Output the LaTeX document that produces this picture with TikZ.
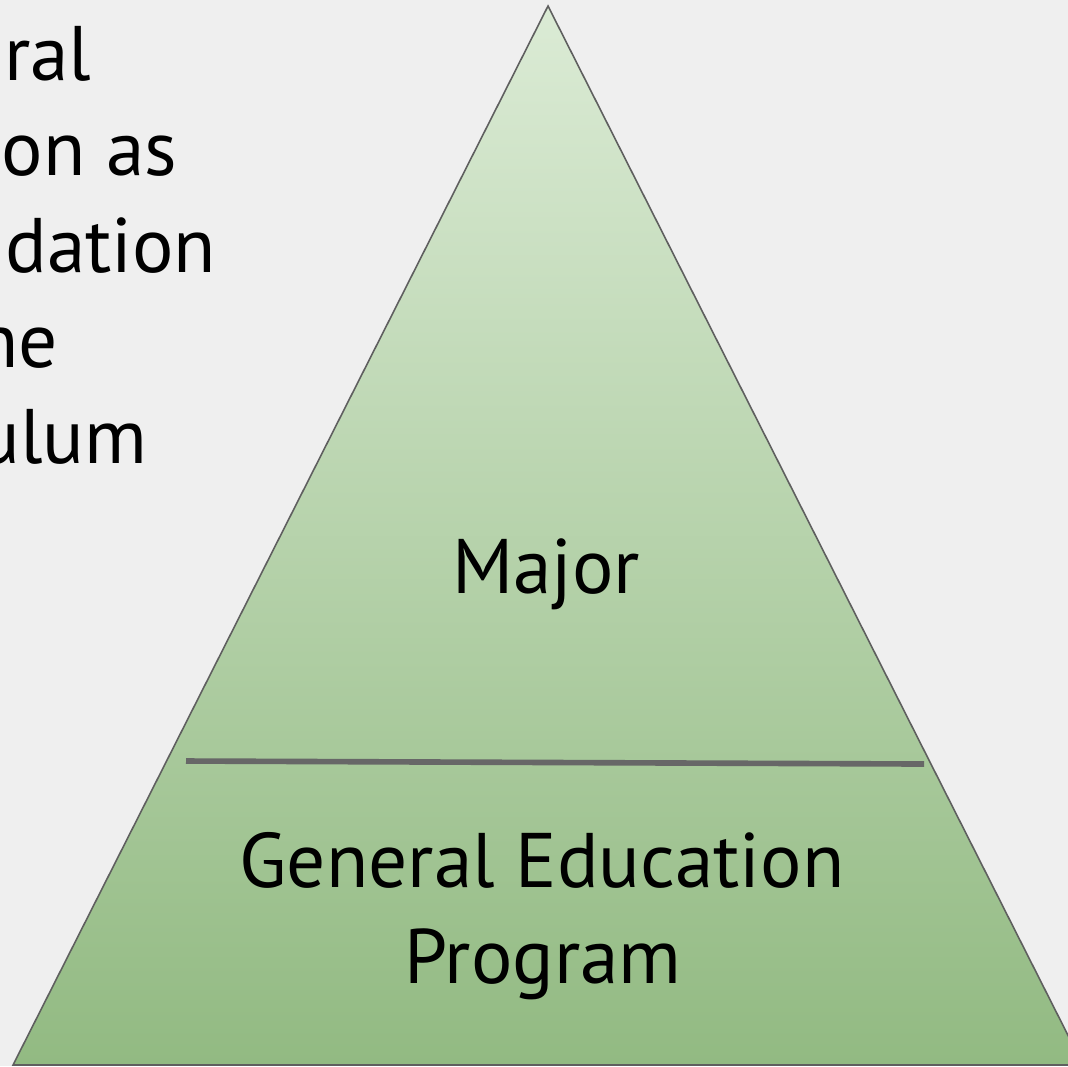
\documentclass[tikz,border=0pt]{standalone}
\usepackage{fontspec}
\setmainfont{PT Sans}
\usepackage{tikz}
\usetikzlibrary{positioning}

\definecolor{bgcol}{HTML}{EFEFEF}
\definecolor{topgreen}{HTML}{DBEBD5}
\definecolor{botgreen}{HTML}{92BA82}
\definecolor{edgegray}{HTML}{5F5F5F}

\begin{document}
\begin{tikzpicture}[
  x=0.01cm, y=-0.01cm,
  font=\fontsize{22}{27}\selectfont,
  lbl/.style={anchor=base, inner sep=0pt},
  side/.style={anchor=base east, inner sep=0pt},
  pyr/.style={draw=edgegray, line width=0.45pt, top color=topgreen, bottom color=botgreen},
  divider/.style={draw=edgegray!95, line width=1.6pt}
]
\useasboundingbox (0,0) rectangle (1068,1066);
\fill[bgcol] (0,0) rectangle (1068,1066);
\clip (0,0) rectangle (1068,1066);

% heading, runs off the left edge
\node[side] (l1) at (92,80) {General};
\node[side] (l2) at (178,175) {Education as};
\node[side] (l3) at (217,272) {Foundation};
\node[side] (l4) at (59,367) {of the};
\node[side] (l5) at (148,463) {Curriculum};

% pyramid
\coordinate (apex) at (548,6);
\coordinate (bl) at (13,1065);
\coordinate (br) at (1083,1065);
\path[pyr] (apex) -- (br) -- (bl) -- cycle;

\coordinate (dl) at (186,761);
\coordinate (dr) at (924,764);
\draw[divider] (dl) -- (dr);

\node[lbl] (major) at (546,593) {Major};
\node[lbl] (gened) at (542,887) {General Education};
\node[lbl] (prog) at (543,983) {Program};
\end{tikzpicture}
\end{document}
